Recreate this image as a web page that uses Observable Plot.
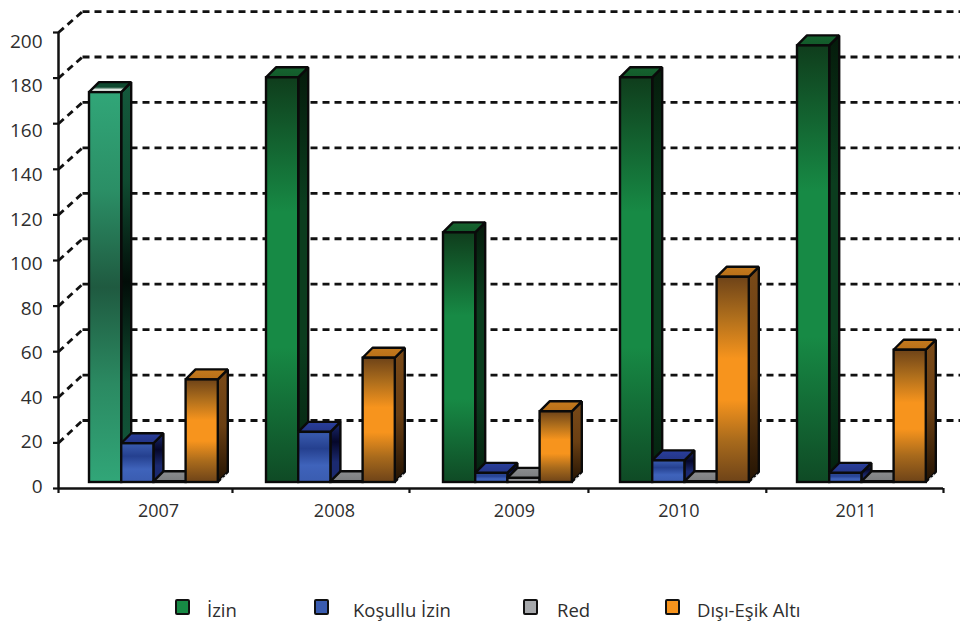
<!DOCTYPE html>
<html>
<head>
<meta charset="utf-8">
<script src="https://cdn.jsdelivr.net/npm/d3@7"></script>
<script src="https://cdn.jsdelivr.net/npm/@observablehq/plot@0.6"></script>
<style>
  html, body { margin: 0; padding: 0; background: #fff; }
  #page { position: relative; width: 960px; height: 628px; overflow: hidden; font-family: "Open Sans", sans-serif; color: #2e2e2e; }
  #chart svg { display: block; }
  #legend { position: absolute; left: 0; top: 585px; width: 960px; height: 43px; }
  .item { position: absolute; top: 14px; font-size: 18.5px; line-height: 22px; white-space: nowrap; }
  .swatch { position: absolute; top: 14px; width: 11px; height: 12px; border: 2.5px solid #111; border-radius: 2px; }
</style>
</head>
<body>
<div id="page">
  <div id="chart"></div>
  <div id="legend"></div>
</div>
<script>
const years = ["2007", "2008", "2009", "2010", "2011"];
const seriesNames = ["İzin", "Koşullu İzin", "Red", "Dışı-Eşik Altı"];
const izin = [171, 177.5, 109.5, 177.5, 191.5];
const kosullu = [17, 22, 4, 9.5, 4];
const red = [0.3, 0.3, 1.8, 0.3, 0.3];
const disi = [45, 54.5, 31, 90, 58];
const yTicks = d3.range(0, 201, 20);
const gridTicks = d3.range(20, 201, 20);
const xTickSlots = [0, 0.983, 1.983, 2.994, 3.999, 5];
const xLabelSlots = [0.565, 1.559, 2.576, 3.505, 4.506];
const swatchColors = ["#178a45", "#3a5cb0", "#a6a8ab", "#f7941d"];

// projection of the pseudo-3D box, in scale units
const W = 960, H = 585, ML = 58, MR = 17, MT = 32, MB = 97;
const ux = (W - ML - MR) / 5;              // px per category slot
const uy = (H - MT - MB) / 200;            // px per value unit
const floorX = 6 / ux, floorY = 6 / uy;    // axis plane to bar plane
const depthX = 10 / ux, depthY = 10 / uy;  // bar depth
const wallX = 24 / ux;                     // axis plane to back wall
const barW = 32.2 / ux, groupInset = 25 / ux;
const wallValue = d => (68 + (d - 20) * 2.272) / uy;  // back-wall height of a value
const labelValue = d => d * 0.976 + 0.875;            // tick labels sit slightly off their ticks

const gradients = {
  izinLight: ["#31a678", "#2b8f66", "#1f5a40", "#2b8a62", "#31a678"],
  izinLightSide: ["#14593c", "#0f4a30", "#020d08", "#0e4a30", "#14593c"],
  izin: ["#0f3d1c", "#178a45", "#178a45", "#0f4a25"],
  izinSide: ["#051b0b", "#0b3d1e", "#0b3d1e", "#04200e"],
  kosullu: ["#3a5cb0", "#25408f", "#3f63bb", "#3a5cb0"],
  kosulluSide: ["#1b2a70", "#05072a", "#1b2a70", "#1b2a70"],
  red: ["#9a9c9e", "#a6a8ab", "#7f8183"],
  redSide: ["#4a4a4c", "#333335"],
  disi: ["#6e4318", "#b06f1c", "#f7941d", "#f7941d", "#a86a1c", "#6e4318"],
  disiSide: ["#7a4a18", "#6a3f13", "#231303"],
  topIzin: ["#16632f", "#125a2a"],
  topLight: ["#0f4a30", "#0f4a30", "#0f4a30", "#e8efe9", "#e8efe9"],
  topKosullu: ["#2a3f9c", "#233485"],
  topRed: ["#8b8d8f", "#7b7d7f"],
  topDisi: ["#c47a1e", "#b86f18"]
};

function defsMark() {
  const ns = "http://www.w3.org/2000/svg";
  const defs = document.createElementNS(ns, "defs");
  for (const [id, stops] of Object.entries(gradients)) {
    const g = document.createElementNS(ns, "linearGradient");
    g.setAttribute("id", id);
    g.setAttribute("x1", 0); g.setAttribute("x2", 0);
    g.setAttribute("y1", 0); g.setAttribute("y2", 1);
    stops.forEach((c, i) => {
      const s = document.createElementNS(ns, "stop");
      s.setAttribute("offset", i / (stops.length - 1));
      s.setAttribute("stop-color", c);
      g.appendChild(s);
    });
    defs.appendChild(g);
  }
  return defs;
}

function barMarks(values, seriesIndex, style, glint) {
  return values.flatMap((v, i) => {
    const st = style(i);
    const x0 = i + floorX + groupInset + seriesIndex * barW;
    const x1 = x0 + barW;
    const y0 = floorY, y1 = floorY + v;
    const line = { stroke: "#0a0a0a", strokeWidth: 2.4, strokeLinejoin: "miter" };
    const marks = [
      Plot.areaY([{ x: x1, a: y0, b: y1 }, { x: x1 + depthX, a: y0 + depthY, b: y1 + depthY }],
        { x: "x", y1: "a", y2: "b", fill: st.side, ...line }),
      Plot.areaX([{ y: y1, a: x0, b: x1 }, { y: y1 + depthY, a: x0 + depthX, b: x1 + depthX }],
        { y: "y", x1: "a", x2: "b", fill: st.top, ...line }),
      Plot.rect([{ a: x0, b: x1, c: y0, d: y1 }],
        { x1: "a", x2: "b", y1: "c", y2: "d", fill: st.front, ...line })
    ];
    if (glint) {
      marks.push(Plot.link([0], {
        x1: x1 + depthX * 0.3, y1: y0 + depthY * 0.3,
        x2: x1 + depthX * 0.8, y2: y0 + depthY * 0.8,
        stroke: "#e8e8e8", strokeWidth: 1.2, strokeDasharray: "3 2"
      }));
    }
    return marks;
  });
}

const grid = { stroke: "#111", strokeWidth: 2.8, strokeDasharray: "7 5" };

const chart = Plot.plot({
  width: W, height: H,
  marginLeft: ML, marginRight: MR, marginTop: MT, marginBottom: MB,
  style: { fontFamily: '"Open Sans", sans-serif', background: "#fff", overflow: "visible" },
  x: { type: "linear", domain: [0, 5] },
  y: { type: "linear", domain: [0, 200] },
  marks: [
    defsMark,
    Plot.link(gridTicks, { x1: 0, x2: wallX, y1: d => d, y2: wallValue, ...grid }),
    Plot.link(gridTicks, { x1: wallX, x2: 5 + 17 / ux, y1: wallValue, y2: wallValue, ...grid }),
    ...barMarks(izin, 0, i => i === 0
      ? { front: "url(#izinLight)", side: "url(#izinLightSide)", top: "url(#topLight)" }
      : { front: "url(#izin)", side: "url(#izinSide)", top: "url(#topIzin)" }),
    ...barMarks(kosullu, 1, () => ({ front: "url(#kosullu)", side: "url(#kosulluSide)", top: "url(#topKosullu)" }), true),
    ...barMarks(red, 2, () => ({ front: "url(#red)", side: "url(#redSide)", top: "url(#topRed)" })),
    ...barMarks(disi, 3, () => ({ front: "url(#disi)", side: "url(#disiSide)", top: "url(#topDisi)" }), true),
    Plot.ruleX([0], { stroke: "#111", strokeWidth: 2.5 }),
    Plot.ruleY([0], { stroke: "#111", strokeWidth: 2.5 }),
    Plot.axisY({
      ticks: yTicks, tickSize: 5, tickFormat: () => "", stroke: "#111", strokeWidth: 2.2, label: null
    }),
    Plot.axisY({
      ticks: yTicks.map(labelValue), tickSize: 0, tickPadding: 16, fontSize: 19, color: "#2e2e2e", label: null,
      tickFormat: d => String(yTicks[d3.bisectCenter(yTicks.map(labelValue), d)])
    }),
    Plot.axisX({
      ticks: xTickSlots, tickSize: 5, tickFormat: () => "", stroke: "#111", strokeWidth: 2.2, label: null
    }),
    Plot.axisX({
      ticks: xLabelSlots, tickSize: 0, tickPadding: 16, fontSize: 18, color: "#2e2e2e", label: null,
      tickFormat: d => years[xLabelSlots.indexOf(d)]
    })
  ]
});
document.getElementById("chart").appendChild(chart);

const legend = document.getElementById("legend");
const swatchX = [175, 314, 523, 665];
const labelX = [207, 353, 557, 697];
seriesNames.forEach((name, i) => {
  const sw = document.createElement("span");
  sw.className = "swatch";
  sw.style.left = swatchX[i] + "px";
  sw.style.background = swatchColors[i];
  legend.appendChild(sw);
  const t = document.createElement("span");
  t.className = "item";
  t.style.left = labelX[i] + "px";
  t.textContent = name;
  legend.appendChild(t);
});
</script>
</body>
</html>
